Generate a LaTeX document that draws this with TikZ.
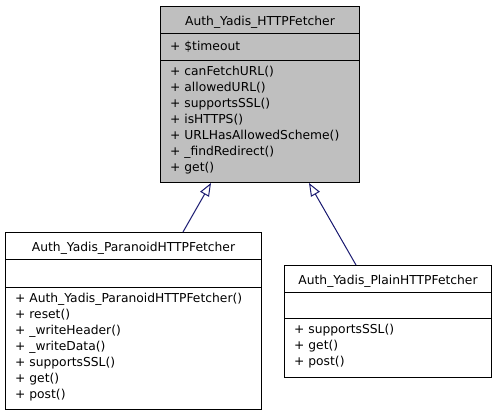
\documentclass[tikz,border=0pt]{standalone}
\usepackage{fontspec}
\setmainfont{DejaVu Sans}
\usetikzlibrary{positioning,arrows.meta,calc}
\definecolor{boxgray}{HTML}{BFBFBF}
\definecolor{edgeblue}{HTML}{191970}

\begin{document}
\begin{tikzpicture}[x=1pt,y=-1pt,
   classbox/.style={draw=black,line width=1pt,anchor=north west,inner sep=0pt},
   classname/.style={anchor=base,inner sep=0pt,font=\fontsize{12.3}{16}\selectfont},
   member/.style={anchor=base west,inner sep=0pt,font=\fontsize{12.3}{16}\selectfont},
   inherits/.style={draw=edgeblue,line width=1pt,-{Triangle[open,length=13pt,width=10pt]}}]
   \useasboundingbox (0,0) rectangle (496,416);
   % base class
   \node[classbox,fill=boxgray,minimum width=199pt,minimum height=176pt] (fetcher) at (160,6) {};
   \node[classname] (fetcher_name) at ($(fetcher.north)+(0,19)$) {Auth\_Yadis\_HTTPFetcher};
   \draw[line width=1pt] ($(fetcher.north west)+(0,27)$) -- ($(fetcher.north east)+(0,27)$);
   \draw[line width=1pt] ($(fetcher.north west)+(0,54)$) -- ($(fetcher.north east)+(0,54)$);
   \node[member] (fetcher_attr) at ($(fetcher.north west)+(10,44)$) {+ \$timeout};
   \foreach \m [count=\i from 0] in {canFetchURL(),allowedURL(),supportsSSL(),isHTTPS(),URLHasAllowedScheme(),\_findRedirect(),get()}
      \node[member] (fetcher_m\i) at ($(fetcher.north west)+(10,69.5+16*\i)$) {+ \m};
   % derived classes
   \node[classbox,fill=white,minimum width=256pt,minimum height=177pt] (paranoid) at (5,232) {};
   \node[classname] (paranoid_name) at ($(paranoid.north)+(0,19)$) {Auth\_Yadis\_ParanoidHTTPFetcher};
   \draw[line width=1pt] ($(paranoid.north west)+(0,27)$) -- ($(paranoid.north east)+(0,27)$);
   \draw[line width=1pt] ($(paranoid.north west)+(0,55)$) -- ($(paranoid.north east)+(0,55)$);
   \foreach \m [count=\i from 0] in {Auth\_Yadis\_ParanoidHTTPFetcher(),reset(),\_writeHeader(),\_writeData(),supportsSSL(),get(),post()}
      \node[member] (paranoid_m\i) at ($(paranoid.north west)+(10,70.5+16*\i)$) {+ \m};
   \node[classbox,fill=white,minimum width=207pt,minimum height=112pt] (plain) at (284,265) {};
   \node[classname] (plain_name) at ($(plain.north)+(0,19)$) {Auth\_Yadis\_PlainHTTPFetcher};
   \draw[line width=1pt] ($(plain.north west)+(0,27)$) -- ($(plain.north east)+(0,27)$);
   \draw[line width=1pt] ($(plain.north west)+(0,53)$) -- ($(plain.north east)+(0,53)$);
   \foreach \m [count=\i from 0] in {supportsSSL(),get(),post()}
      \node[member] (plain_m\i) at ($(plain.north west)+(10,68.5+16*\i)$) {+ \m};
   % generalisation
   \draw[inherits] ($(paranoid.north west)+(178,0)$) -- ($(fetcher.south west)+(51,0)$);
   \draw[inherits] ($(plain.north west)+(72,0)$) -- ($(fetcher.south west)+(149,0)$);
\end{tikzpicture}
\end{document}
